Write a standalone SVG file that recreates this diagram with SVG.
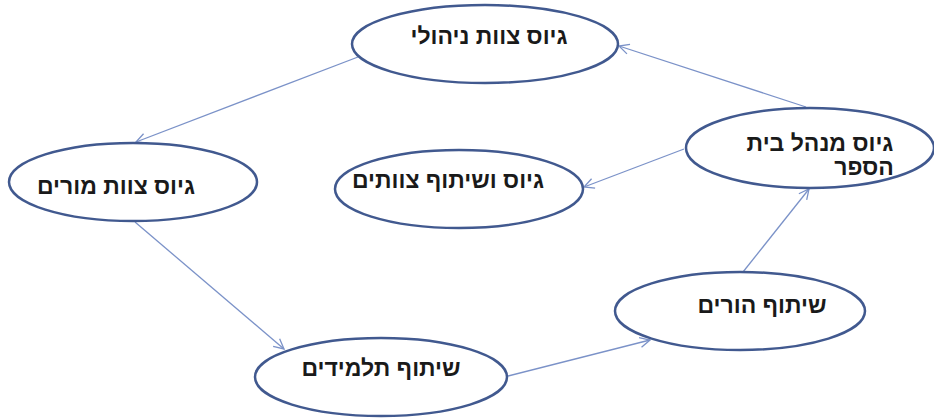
<svg xmlns="http://www.w3.org/2000/svg" width="934" height="418" viewBox="0 0 934 418">
  <style>
    .node ellipse { fill: #ffffff; stroke: #41598f; stroke-width: 2.5; }
    .node text { font-family: "Liberation Sans", "DejaVu Sans", sans-serif; font-size: 23px; font-weight: bold; fill: #1a1a1a; text-anchor: middle; }
    .edge { fill: none; stroke: #7b92c8; stroke-width: 1.3; marker-end: url(#arrow); }
  </style>
  <defs>
    <marker id="arrow" viewBox="0 0 12 12" refX="11" refY="6" markerWidth="12" markerHeight="12" markerUnits="userSpaceOnUse" orient="auto">
      <path d="M1,1 L11,6 L1,11" fill="none" stroke="#7b92c8" stroke-width="1.3"/>
    </marker>
  </defs>

  <rect width="934" height="418" fill="#ffffff"/>

  <g id="connectors">
    <line class="edge" x1="358" y1="57" x2="136" y2="142"/>
    <line class="edge" x1="135" y1="222" x2="284" y2="349"/>
    <line class="edge" x1="508" y1="376" x2="650" y2="340"/>
    <line class="edge" x1="743" y1="272" x2="809" y2="189"/>
    <line class="edge" x1="684" y1="149" x2="584" y2="187"/>
    <line class="edge" x1="806" y1="107" x2="619" y2="46"/>
  </g>

  <g id="node-management" class="node">
    <ellipse cx="485" cy="44" rx="133" ry="39"/>
    <text x="489" y="44">גיוס צוות ניהולי</text>
  </g>

  <g id="node-teachers" class="node">
    <ellipse cx="133" cy="182" rx="124" ry="39"/>
    <text x="116" y="194">גיוס צוות מורים</text>
  </g>

  <g id="node-teams" class="node">
    <ellipse cx="459" cy="189" rx="124" ry="39"/>
    <text x="448" y="188">גיוס ושיתוף צוותים</text>
  </g>

  <g id="node-principal" class="node">
    <ellipse cx="810" cy="148" rx="124" ry="40"/>
    <text x="820" y="151">גיוס מנהל בית</text>
    <text x="864" y="175">הספר</text>
  </g>

  <g id="node-students" class="node">
    <ellipse cx="381" cy="377" rx="126" ry="39"/>
    <text x="381" y="376">שיתוף תלמידים</text>
  </g>

  <g id="node-parents" class="node">
    <ellipse cx="740" cy="311" rx="125" ry="39"/>
    <text x="762" y="313">שיתוף הורים</text>
  </g>
</svg>
